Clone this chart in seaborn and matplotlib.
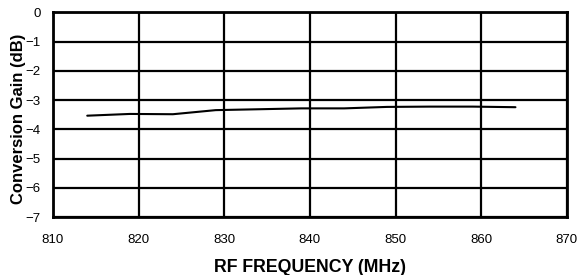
import matplotlib
matplotlib.use("Agg")
import matplotlib.pyplot as plt
import seaborn as sns
import pandas as pd

sns.set_style("white")
plt.rcParams['font.family'] = ['Liberation Sans', 'DejaVu Sans']

freq_mhz = [814, 819, 824, 829, 834, 839, 844, 849, 854, 859, 864]
gain_db = [-3.53, -3.47, -3.48, -3.34, -3.31, -3.28, -3.28, -3.23, -3.22, -3.22, -3.24]
x_ticks = [810, 820, 830, 840, 850, 860, 870]
y_ticks = [0, -1, -2, -3, -4, -5, -6, -7]

df = pd.DataFrame({"freq": freq_mhz, "gain": gain_db})

fig = plt.figure(figsize=(5.79, 2.75), dpi=100)
ax = fig.add_axes([0.0915, 0.21, 0.8875, 0.745])

sns.lineplot(x="freq", y="gain", data=df, color="black", linewidth=1.5, ax=ax)

ax.set_xlim(810, 870)
ax.set_ylim(-7, 0)
ax.set_xticks(x_ticks)
ax.set_yticks(y_ticks)
ax.grid(True, color="black", linewidth=1.6)
ax.set_axisbelow(True)
for s in ax.spines.values():
    s.set_visible(True)
    s.set_color("black")
    s.set_linewidth(2)
ax.tick_params(axis="both", length=0, labelsize=9.5, colors="black")
ax.tick_params(axis="x", pad=12)
ax.tick_params(axis="y", pad=9)

ax.set_xlabel("RF FREQUENCY (MHz)", fontsize=12.8, fontweight="bold", color="black")
ax.xaxis.set_label_coords(0.5, -0.203)
ax.set_ylabel("Conversion Gain (dB)", fontsize=12, fontweight="bold", color="black")
ax.yaxis.set_label_coords(-0.053, 0.48)

fig.savefig("out.png", dpi=100)
